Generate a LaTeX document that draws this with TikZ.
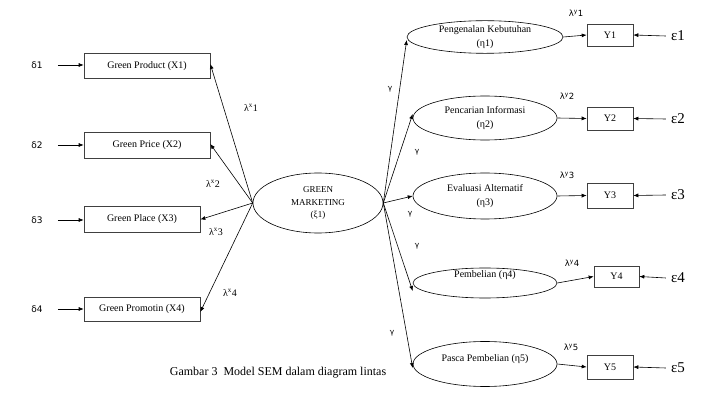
\documentclass[tikz,border=0pt]{standalone}
\usepackage{fontspec}
\setmainfont{Liberation Serif}
\newfontfamily\dejavu{DejaVu Sans}
\usetikzlibrary{shapes.geometric, arrows.meta, positioning}
\tikzset{
    indikator/.style={draw=black!75, line width=0.6pt, minimum width=46pt, minimum height=23pt, inner sep=0pt, font=\fontsize{10}{12}\selectfont},
    laten/.style={draw=black, ellipse, line width=0.6pt, inner sep=0pt, align=center, font=\fontsize{10}{14}\selectfont},
    panah/.style={-{Latex[length=5pt,width=4pt]}, line width=0.6pt},
    galat/.style={font=\fontsize{15}{15}\selectfont, inner sep=0pt},
    delta/.style={font=\dejavu\fontsize{9}{9}\selectfont, inner sep=0pt},
    muatanx/.style={font=\fontsize{10}{10}\selectfont, inner sep=0pt},
    muatany/.style={font=\dejavu\fontsize{8.5}{8.5}\selectfont, inner sep=0pt},
    jalur/.style={font=\dejavu\fontsize{7.5}{7.5}\selectfont, inner sep=0pt}
}

\begin{document}
\begin{tikzpicture}[x=1pt, y=-1pt]
    \useasboundingbox (0,0) rectangle (724,414);

    % variabel laten eksogen
    \node[laten, minimum width=130pt, minimum height=60pt, font=\fontsize{9}{12.5}\selectfont] (gm) at (318,203) {GREEN\\MARKETING\\(ξ1)};

    % indikator X
    \node[indikator, minimum width=126pt, minimum height=25pt] (x1) at (147,66) {Green Product (X1)};
    \node[indikator, minimum width=126pt, minimum height=26pt] (x2) at (147,145.5) {Green Price (X2)};
    \node[indikator, minimum width=116pt, minimum height=26pt] (x3) at (142,219.5) {Green Place (X3)};
    \node[indikator, minimum width=116pt, minimum height=24pt] (x4) at (142,309) {Green Promotin (X4)};

    \node[delta] (d1) at (37,65) {δ1};
    \node[delta] (d2) at (37,145) {δ2};
    \node[delta] (d3) at (37,220) {δ3};
    \node[delta] (d4) at (37,309) {δ4};

    \draw[panah] ([xshift=15pt]d1.east) -- (d1.east -| x1.west);
    \draw[panah] ([xshift=15pt]d2.east) -- (d2.east -| x2.west);
    \draw[panah] ([xshift=15pt]d3.east) -- (d3.east -| x3.west);
    \draw[panah] ([xshift=15pt]d4.east) -- (d4.east -| x4.west);

    \draw[panah] (gm.west) -- ([yshift=2pt]x1.east);
    \draw[panah] (gm.west) -- ([yshift=1.5pt]x2.east);
    \draw[panah] (gm.west) -- (x3.east);
    \draw[panah] (gm.west) -- ([yshift=-3pt]x4.east);

    \node[muatanx] (lx1) at (251,108) {λ\textsuperscript{x}1};
    \node[muatanx] (lx2) at (213,184) {λ\textsuperscript{x}2};
    \node[muatanx] (lx3) at (216,232) {λ\textsuperscript{x}3};
    \node[muatanx] (lx4) at (230,293) {λ\textsuperscript{x}4};

    % variabel laten endogen
    \node[laten, minimum width=156pt, minimum height=32pt] (e1) at (485,37) {Pengenalan Kebutuhan\\(η1)};
    \node[laten, minimum width=144pt, minimum height=44pt] (e2) at (485,118) {Pencarian Informasi\\(η2)};
    \node[laten, minimum width=144pt, minimum height=46pt] (e3) at (485,196) {Evaluasi Alternatif\\(η3)};
    \node[laten, minimum width=144pt, minimum height=30pt] (e4) at (485,283) {\raisebox{5.5pt}[0pt][0pt]{Pembelian (η4)}};
    \node[laten, minimum width=144pt, minimum height=45pt] (e5) at (485,364) {\raisebox{2.5pt}[0pt][0pt]{Pasca Pembelian (η5)}};

    \draw[panah] (gm.east) -- ([yshift=-3pt]e1.west);
    \draw[panah] (gm.east) -- ([yshift=4pt]e2.west);
    \draw[panah] (gm.east) -- (e3.west);
    \draw[panah] (gm.east) -- ([yshift=-8pt]e4.west);
    \draw[panah] (gm.east) -- ([yshift=-4pt]e5.west);

    \node[jalur] (g1) at (390,89) {γ};
    \node[jalur] (g2) at (417,152) {γ};
    \node[jalur] (g3) at (410,214) {γ};
    \node[jalur] (g4) at (417,246) {γ};
    \node[jalur] (g5) at (392,333) {γ};

    % indikator Y
    \node[indikator, minimum height=22pt] (y1) at (610,35) {Y1};
    \node[indikator] (y2) at (610,118.5) {Y2};
    \node[indikator, minimum height=25pt] (y3) at (610,195.5) {Y3};
    \node[indikator, minimum width=45pt, minimum height=21pt] (y4) at (616.5,276.5) {Y4};
    \node[indikator, minimum height=24pt] (y5) at (610,367) {Y5};

    \draw[panah] (e1.east) -- (y1.west);
    \draw[panah] (e2.east) -- (y2.west);
    \draw[panah] (e3.east) -- (y3.west);
    \draw[panah] (e4.east) -- (y4.west);
    \draw[panah] (e5.east) -- (y5.west);

    \node[muatany] (ly1) at (576,13) {λ\textsuperscript{y}1};
    \node[muatany] (ly2) at (567,96) {λ\textsuperscript{y}2};
    \node[muatany] (ly3) at (567,175) {λ\textsuperscript{y}3};
    \node[muatany] (ly4) at (572,263) {λ\textsuperscript{y}4};
    \node[muatany] (ly5) at (571,347) {λ\textsuperscript{y}5};

    \node[galat] (eps1) at (678,36) {ε1};
    \node[galat] (eps2) at (678,119) {ε2};
    \node[galat] (eps3) at (678,195) {ε3};
    \node[galat] (eps4) at (678,278) {ε4};
    \node[galat] (eps5) at (678,368) {ε5};

    \draw[panah] ([xshift=-5pt]eps1.west) -- (y1.east);
    \draw[panah] ([xshift=-5pt]eps2.west) -- (y2.east);
    \draw[panah] ([xshift=-5pt]eps3.west) -- (y3.east);
    \draw[panah] ([xshift=-5pt]eps4.west) -- (y4.east);
    \draw[panah] ([xshift=-5pt]eps5.west) -- (y5.east);

    \node[font=\fontsize{12}{12}\selectfont] (judul) at (278,373) {Gambar 3~ Model SEM dalam diagram lintas};
\end{tikzpicture}
\end{document}
